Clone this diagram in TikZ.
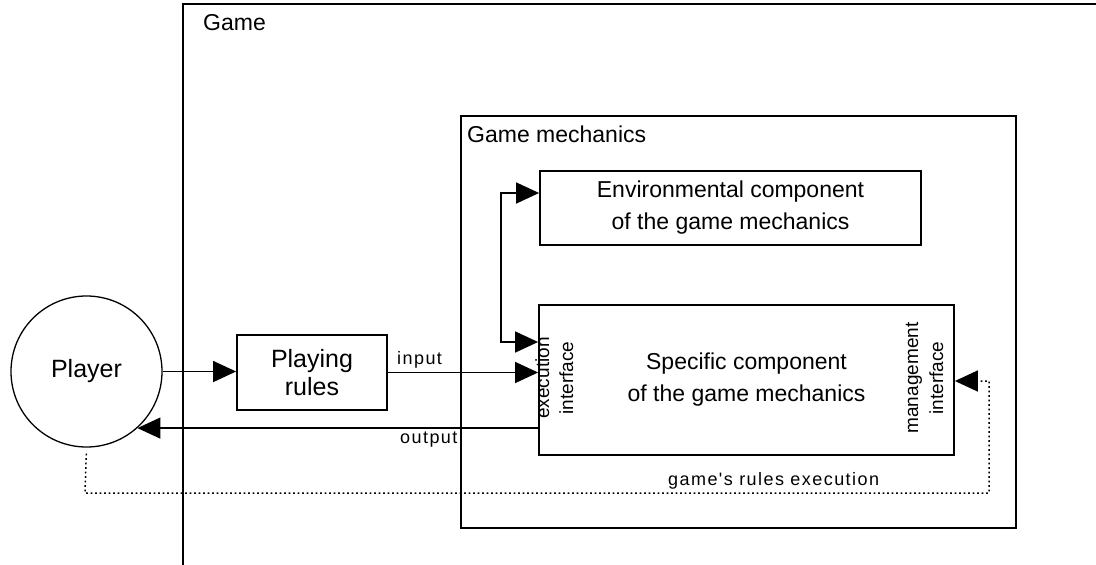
\documentclass[tikz,border=0pt]{standalone}
\usepackage{fontspec}
\setmainfont{Liberation Sans}
\newfontfamily\lsfont[LetterSpace=8]{Liberation Sans}
\usetikzlibrary{arrows.meta,calc}
\begin{document}
\begin{tikzpicture}[x=1pt,y=-1pt,
  box/.style={draw, line width=1.8pt, rectangle, inner sep=0pt, align=center,
    font=\fontsize{23}{32}\selectfont},
  tip/.tip={Triangle[length=23pt,width=21pt]},
  arr/.style={line width=1.5pt, -tip},
  dblarr/.style={line width=1.5pt, tip-tip},
  dotline/.style={line width=1.5pt, dash pattern=on 1.8pt off 2.7pt, -tip},
  lbl/.style={font=\lsfont\fontsize{18}{20}\selectfont, inner sep=0pt, anchor=base west},
  vlbl/.style={font=\fontsize{19}{22}\selectfont, inner sep=0pt, rotate=90, anchor=base},
  ttl/.style={font=\fontsize{23}{28}\selectfont, inner sep=0pt, anchor=base west}]
\useasboundingbox (0,0) rectangle (1096,565);

% Game frame
\coordinate (gtr) at (1096,4);
\coordinate (gtl) at (183,4);
\coordinate (gbl) at (183,565);
\draw[line width=2pt] (gtr) -- (gtl) -- (gbl);
\node[ttl] (gamettl) at (203,30) {Game};

% Game mechanics frame
\node[draw, line width=1.8pt, rectangle, inner sep=0pt,
  minimum width=555pt, minimum height=412pt] (mech) at (738.5,322) {};
\node[ttl] (mechttl) at (467,142) {Game mechanics};

% Player
\node[draw, circle, line width=1.3pt, inner sep=0pt, minimum size=151pt,
  font=\fontsize{25}{30}\selectfont] (player) at (86.5,371.5) {Player};

% Playing rules
\node[box, minimum width=150pt, minimum height=75pt,
  font=\fontsize{25}{28}\selectfont] (rules) at (312,372.5) {Playing\\rules};

% Environmental component
\node[box, minimum width=381pt, minimum height=74pt] (env) at (730.5,208)
  {Environmental component\\of the game mechanics};

% Specific component
\node[box, minimum width=415pt, minimum height=150pt] (spec) at (746.5,380)
  {Specific component\\of the game mechanics};

% interface labels
\node[vlbl] (exec1) at (549,378) {execution};
\node[vlbl] (exec2) at (573,378) {interface};
\node[vlbl] (man1) at (918,378) {management};
\node[vlbl] (man2) at (943,378) {interface};

% connectors
\draw[arr] (player.east) -- (rules.west |- player.east);
\draw[arr] (rules.east) -- (spec.west |- rules.east);
\node[lbl] (inlbl) at (397,364) {input};

\coordinate (outy) at (player.312.7);
\draw[arr] (spec.west |- outy) -- (outy);
\node[lbl] (outlbl) at (400,443) {output};

\coordinate (envin) at ($(env.west)+(0,-15)$);
\coordinate (specin) at ($(spec.west)+(0,-38)$);
\coordinate (ej) at (501,342);
\draw[dblarr] (envin) -| (ej) -- (specin);

\coordinate (dl) at (85,493);
\coordinate (dr) at (989,493);
\coordinate (mgin) at ($(spec.east)+(0,1)$);
\draw[dotline, shorten <=6pt] (player.south) -- (dl) -- (dr) |- (mgin);
\node[lbl] (gre) at (668,485) {game's rules execution};
\end{tikzpicture}
\end{document}
